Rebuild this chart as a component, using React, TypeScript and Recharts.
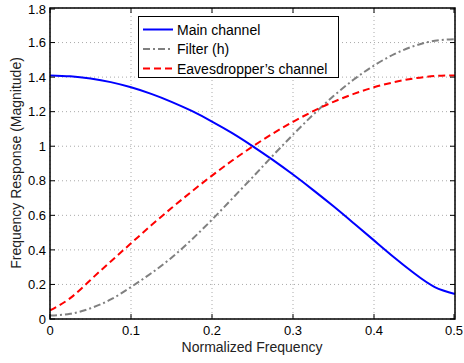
import {
  LineChart,
  Line,
  XAxis,
  YAxis,
  CartesianGrid,
} from "recharts";

const freqs = [
  0, 0.025, 0.05, 0.075, 0.1, 0.125, 0.15, 0.175, 0.2, 0.225, 0.25, 0.275, 0.3,
  0.325, 0.35, 0.375, 0.4, 0.425, 0.45, 0.475, 0.5,
];
const mainChannel = [
  1.41, 1.405, 1.392, 1.371, 1.341, 1.303, 1.257, 1.204, 1.143, 1.076, 1.001,
  0.921, 0.836, 0.746, 0.652, 0.554, 0.455, 0.356, 0.263, 0.185, 0.145,
];
const filterH = [
  0.02, 0.03, 0.062, 0.113, 0.185, 0.265, 0.355, 0.46, 0.575, 0.697, 0.82,
  0.945, 1.067, 1.183, 1.29, 1.386, 1.467, 1.533, 1.581, 1.61, 1.62,
];
const eveChannel = [
  0.05, 0.121, 0.226, 0.333, 0.438, 0.542, 0.642, 0.738, 0.83, 0.917, 0.998,
  1.073, 1.141, 1.203, 1.257, 1.303, 1.341, 1.371, 1.393, 1.406, 1.41,
];
const xTicks = [0, 0.1, 0.2, 0.3, 0.4, 0.5];
const yTicks = [0, 0.2, 0.4, 0.6, 0.8, 1, 1.2, 1.4, 1.6, 1.8];

const data = freqs.map((f, i) => ({
  f,
  main: mainChannel[i],
  filter: filterH[i],
  eve: eveChannel[i],
}));

// plot box (page pixels)
const LEFT = 50;
const RIGHT = 455;
const TOP = 8;
const BOTTOM = 319;
const TICK = 5;
const FONT = "'Liberation Sans', Arial, Helvetica, sans-serif";

const series = [
  { label: "Main channel", color: "#0000ff", dash: undefined },
  { label: "Filter (h)", color: "#808080", dash: "7 3 2 3" },
  { label: "Eavesdropper\u2019s channel", color: "#ff0000", dash: "7 4" },
];

function XTick(props: any) {
  const { x, payload } = props;
  return (
    <g>
      <line x1={x} x2={x} y1={BOTTOM} y2={BOTTOM - TICK} stroke="#000" />
      <line x1={x} x2={x} y1={TOP} y2={TOP + TICK} stroke="#000" />
      <text x={x} y={335} textAnchor="middle" fontSize={13} fill="#000" fontFamily={FONT}>
        {payload.value}
      </text>
    </g>
  );
}

function YTick(props: any) {
  const { y, payload } = props;
  return (
    <g>
      <line x1={LEFT} x2={LEFT + TICK} y1={y} y2={y} stroke="#000" />
      <line x1={RIGHT} x2={RIGHT - TICK} y1={y} y2={y} stroke="#000" />
      <text x={46} y={y + 4.7} textAnchor="end" fontSize={13} fill="#000" fontFamily={FONT}>
        {payload.value}
      </text>
    </g>
  );
}

function LegendBox() {
  return (
    <svg
      width={201}
      height={62}
      style={{ position: "absolute", left: 138, top: 16, display: "block" }}
    >
      <rect x={0.5} y={0.5} width={200} height={61} fill="#fff" stroke="#000" />
      {series.map((s, i) => {
        const cy = 13.5 + i * 19.5;
        return (
          <g key={s.label}>
            <line
              x1={5}
              x2={35}
              y1={cy}
              y2={cy}
              stroke={s.color}
              strokeWidth={2}
              strokeDasharray={s.dash}
            />
            <text x={39} y={cy + 5} fontSize={14} fill="#000" fontFamily={FONT}>
              {s.label}
            </text>
          </g>
        );
      })}
    </svg>
  );
}

export default function App() {
  return (
    <div style={{ position: "absolute", left: 0, top: 0, width: 464, height: 363, background: "#fff" }}>
      <LineChart
        width={464}
        height={363}
        data={data}
        margin={{ top: TOP, right: 464 - RIGHT, bottom: 14, left: 10 }}
      >
        <CartesianGrid stroke="#aaaaaa" strokeDasharray="1 3" />
        <XAxis
          dataKey="f"
          type="number"
          domain={[0, 0.5]}
          ticks={xTicks}
          tick={<XTick />}
          tickLine={false}
          axisLine={false}
          height={30}
          label={{
            content: () => (
              <text x={252} y={352} textAnchor="middle" fontSize={14} fill="#222" fontFamily={FONT}>
                Normalized Frequency
              </text>
            ),
          }}
        />
        <YAxis
          type="number"
          domain={[0, 1.8]}
          ticks={yTicks}
          tick={<YTick />}
          tickLine={false}
          axisLine={false}
          width={40}
          label={{
            content: () => (
              <text
                x={21}
                y={163}
                textAnchor="middle"
                fontSize={14}
                fill="#222"
                fontFamily={FONT}
                transform="rotate(-90 21 163)"
              >
                Frequency Response (Magnitude)
              </text>
            ),
          }}
        />
        <Line
          dataKey="main"
          type="natural"
          stroke="#0000ff"
          strokeWidth={2}
          dot={false}
          isAnimationActive={false}
        />
        <Line
          dataKey="filter"
          type="natural"
          stroke="#808080"
          strokeWidth={2}
          strokeDasharray="7 3 2 3"
          dot={false}
          isAnimationActive={false}
        />
        <Line
          dataKey="eve"
          type="natural"
          stroke="#ff0000"
          strokeWidth={2}
          strokeDasharray="7 4"
          dot={false}
          isAnimationActive={false}
        />
      </LineChart>
      <svg
        width={464}
        height={363}
        style={{ position: "absolute", left: 0, top: 0, pointerEvents: "none" }}
      >
        <rect
          x={LEFT}
          y={TOP}
          width={RIGHT - LEFT}
          height={BOTTOM - TOP}
          fill="none"
          stroke="#000"
          strokeWidth={1.5}
        />
      </svg>
      <LegendBox />
    </div>
  );
}
